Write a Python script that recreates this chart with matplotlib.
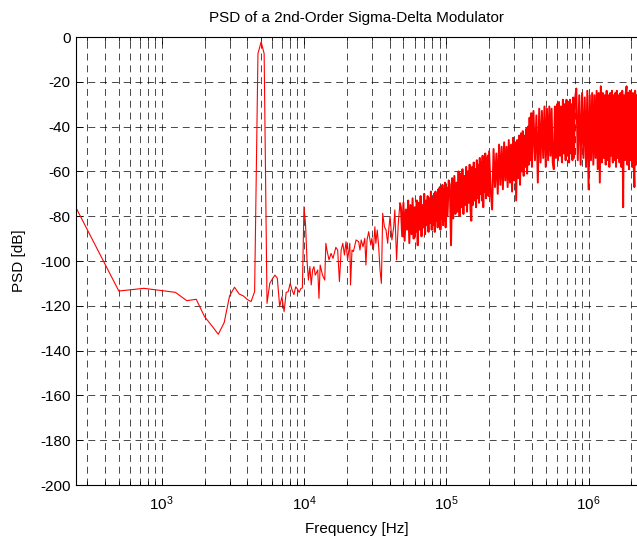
import matplotlib
matplotlib.use("Agg")
import matplotlib.pyplot as plt
import numpy as np

plt.rcParams['font.family'] = ['Liberation Sans', 'DejaVu Sans']
plt.rcParams['axes.unicode_minus'] = False
plt.rcParams['mathtext.default'] = 'regular'

# low part of the spectrum: bin frequency [Hz] and PSD [dB]
f_low = [250, 500, 750, 1000, 1250, 1500, 1750, 2000, 2250, 2500,
         2750, 3000, 3250, 3500, 3750, 4000, 4250, 4500, 4750, 5000,
         5250, 5500, 5750, 6000, 6250, 6500, 6750, 7000, 7250, 7500,
         7750, 8000, 8250, 8500, 8750, 9000, 9250, 9500, 9750, 10000,
         10250, 10500, 10750, 11000, 11250, 11500, 11750, 12000, 12500, 12750,
         13000, 13500, 14000, 14250, 14500, 15000, 15500, 16000, 16750, 17250,
         17750, 18250, 18750, 19250, 19750, 20250, 21000, 21250, 21750, 22250,
         23250, 24250, 24750, 25250, 26000, 26750, 27250, 27750, 28500, 29500,
         30000, 30750, 31500, 32000, 32750, 33500, 34250, 35000, 35750, 36750,
         37750, 38750, 39500, 40250, 41500, 42750, 43500, 44750, 46000, 47250]
psd_low = [-76.2, -113.4, -112.2, -113.2, -114, -117.7, -117.1, -124.8, -128.9, -132.7,
           -127.5, -115.6, -111.7, -114.7, -115.6, -117.2, -118.1, -113.7, -7.4, -2.2,
           -7.4, -118.9, -110, -108, -106.3, -107.7, -120.4, -116, -122.6, -114,
           -113.7, -110, -113, -115, -111.5, -112.5, -114, -112.3, -112, -75.8,
           -83.2, -99.5, -108.5, -102.5, -110.7, -104, -102.5, -106.3, -104, -116.7,
           -101.8, -106.3, -108.5, -92.1, -95.1, -99.5, -96.6, -98.8, -93.9, -95.1,
           -109.2, -95.1, -92.1, -97.3, -91.4, -99.5, -92.1, -110.7, -95.1, -95.8,
           -90.6, -91.4, -95.1, -90.6, -93.6, -89.9, -101.8, -90.6, -86.9, -92.9,
           -89.9, -95.1, -84.7, -92.1, -86.2, -93.6, -104, -110, -78.7, -84.7,
           -86.2, -92.1, -85.4, -80.2, -90.6, -84.7, -77.2, -99.5, -83.2, -74.3]

# dense (noise shaped) part: frequency [kHz] and PSD [dB]
f_high_khz = [47.25, 48, 49, 50, 51, 52, 53, 54, 55, 56, 57, 58, 59, 60, 61, 62, 63, 64,
              65, 66, 67, 68, 69, 70, 71, 72, 73, 74, 75, 76, 77, 78, 79, 80,
              81, 82, 83, 84, 85, 86, 87, 88, 89, 90, 91, 92, 93, 94, 95, 96,
              97, 98, 99, 100,
              102, 104, 106, 108, 110, 112, 114, 116, 118, 120, 122, 124, 126,
              128, 130, 132, 134, 136, 138, 140, 142, 144, 146, 148, 150, 152,
              154, 156, 158, 160, 162, 164, 166, 168, 170, 172, 174, 176, 178,
              180, 182, 184, 186, 188, 190, 192, 194, 196, 198, 200,
              205, 210, 215, 220, 225, 230, 235, 240, 245, 250, 255, 260, 265,
              270, 275, 280, 285, 290, 295, 300, 305, 310, 315, 320, 325, 330,
              335, 340, 345, 350, 355, 360, 365, 370, 375, 380, 385, 390, 395, 400,
              410, 420, 430, 440, 450, 460, 470, 480, 490, 500, 510, 520, 530,
              540, 550, 560, 570, 580, 590, 600, 610, 620, 630, 640, 650, 660,
              670, 680, 690, 700, 710, 720, 730, 740, 750, 760, 770, 780, 790, 800,
              820, 840, 860, 880, 900, 920, 940, 960, 980, 1000, 1020, 1040, 1060,
              1080, 1100, 1120, 1140, 1160, 1180, 1200, 1220, 1240, 1260, 1280,
              1300, 1320, 1340, 1360, 1380, 1400, 1420, 1440, 1460, 1480, 1500,
              1520, 1540, 1560, 1580, 1600,
              1625, 1650, 1675, 1700, 1725, 1750, 1775, 1800, 1825, 1850, 1875,
              1900, 1925, 1950, 1975, 2000, 2025, 2050, 2075, 2100, 2125, 2150,
              2175, 2200, 2225, 2250]
psd_high = [-74.3, -76, -89, -74, -91, -77, -86, -73, -92, -75, -88, -72, -90, -76, -87, -73, -93, -74,
            -86, -71, -89, -75, -85, -70, -88, -73, -84, -71, -87, -72, -83, -69, -86, -72,
            -84, -70, -87, -69, -82, -71, -85, -68, -83, -67, -86, -70, -81, -66, -84, -68,
            -82, -65, -85, -67,
            -80, -64, -66, -93, -63, -81, -62, -79, -65, -78, -60, -80, -61,
            -76, -59, -79, -62, -75, -58, -78, -60, -74, -57, -77, -82, -58,
            -75, -56, -73, -59, -76, -55, -72, -57, -74, -54, -70, -56, -73,
            -53, -76, -55, -69, -52, -72, -54, -68, -53, -71, -51,
            -68, -77, -50, -67, -52, -70, -48, -66, -49, -68, -47, -64, -49,
            -67, -46, -65, -48, -69, -45, -64, -47, -73, -46, -63, -44, -66,
            -43, -60, -42, -62, -44, -58, -41, -61, -40, -57, -36, -55, -34, -58,
            -33, -55, -35, -65, -32, -56, -33, -54, -31, -58, -32, -55, -31,
            -53, -32, -56, -59, -31, -54, -30, -55, -29, -53, -31, -56, -28,
            -52, -30, -55, -28, -53, -29, -56, -28, -52, -30, -55, -27, -54, -29,
            -23, -55, -26, -57, -25, -54, -27, -58, -24, -68, -26, -55, -25,
            -57, -26, -54, -24, -59, -25, -65, -22, -56, -25, -54,
            -26, -57, -24, -55, -26, -58, -25, -53, -24, -56, -26,
            -55, -25, -58, -24, -54,
            -26, -56, -25, -58, -24, -76, -26, -55, -25, -22, -57,
            -25, -59, -24, -55, -26, -58, -25, -56, -67, -24, -57,
            -26, -55, -25, -58]

yticks = list(range(-200, 1, 20))

f_low = np.array(f_low, dtype=float)
f_high = np.array(f_high_khz, dtype=float) * 1000

fig = plt.figure(figsize=(6.37, 5.41), dpi=100)
ax = fig.add_axes([0.1193, 0.1035, 0.8807, 0.8281])

ax.semilogx(f_low, psd_low, color='red', linewidth=0.8)
ax.semilogx(f_high, psd_high, color='red', linewidth=1.4)

ax.set_xlim(250, 2.19e6)
ax.set_ylim(-200, 0)
ax.set_yticks(yticks)

dash = (0, (10, 7))
ax.grid(True, which='major', color='black', linestyle=dash, linewidth=0.5)
ax.grid(True, which='minor', axis='x', color='black', linestyle=dash, linewidth=0.5)

ax.tick_params(which='both', direction='in', top=True, right=False, labelsize=11)
ax.tick_params(which='major', length=5, width=0.6)
ax.tick_params(which='minor', length=3, width=0.6)
ax.tick_params(axis='x', pad=7)
ax.tick_params(axis='y', pad=4)
ax.spines['right'].set_visible(False)
for s in ['left', 'bottom', 'top']:
    ax.spines[s].set_linewidth(0.8)

ax.set_title('PSD of a 2nd-Order Sigma-Delta Modulator', fontsize=11, pad=11)
ax.set_xlabel('Frequency [Hz]', fontsize=11, labelpad=6)
ax.set_ylabel('PSD [dB]', fontsize=11, labelpad=10)

fig.savefig('out.png', dpi=100)
